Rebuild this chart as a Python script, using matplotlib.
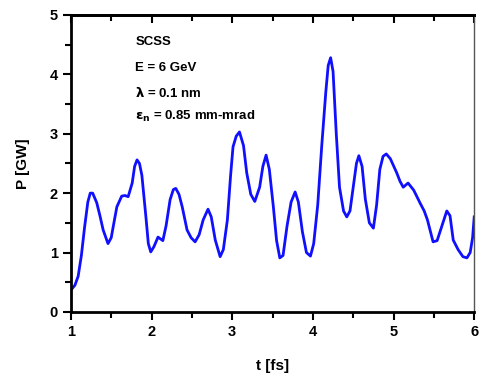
import numpy as np
import matplotlib
import matplotlib.pyplot as plt
from matplotlib.ticker import MultipleLocator

matplotlib.use("Agg")

plt.rcParams['font.family'] = ['Liberation Sans', 'DejaVu Sans']

# 时间 [fs] 与功率 [GW]
t_fs = [1.00, 1.02, 1.05, 1.09, 1.13, 1.17, 1.21, 1.24, 1.27, 1.32, 1.36, 1.40, 1.46,
        1.50, 1.54, 1.57, 1.63, 1.67, 1.71, 1.76, 1.79, 1.82, 1.85, 1.88, 1.93,
        1.96, 1.99, 2.03, 2.08, 2.14, 2.18, 2.23, 2.27, 2.30, 2.34, 2.38, 2.44, 2.49,
        2.54, 2.59, 2.64, 2.70, 2.74, 2.79, 2.85, 2.89, 2.94, 2.98, 3.01, 3.05,
        3.09, 3.14, 3.18, 3.23, 3.28, 3.34, 3.38, 3.42, 3.46, 3.51, 3.55, 3.59,
        3.63, 3.68, 3.73, 3.78, 3.82, 3.87, 3.92, 3.97, 4.01, 4.06, 4.11, 4.16,
        4.19, 4.22, 4.25, 4.29, 4.33, 4.38, 4.42, 4.46, 4.50, 4.54, 4.57, 4.61, 4.65,
        4.70, 4.75, 4.79, 4.83, 4.87, 4.91, 4.96, 5.04, 5.08, 5.12, 5.18, 5.25,
        5.33, 5.38, 5.42, 5.49, 5.54, 5.60, 5.66, 5.70, 5.74, 5.80, 5.86, 5.91,
        5.95, 5.98, 6.00]
power_gw = [0.37, 0.40, 0.45, 0.60, 0.95, 1.43, 1.85, 2.00, 2.00, 1.84, 1.62, 1.38, 1.15,
            1.25, 1.55, 1.77, 1.95, 1.96, 1.94, 2.17, 2.45, 2.56, 2.50, 2.30, 1.60,
            1.15, 1.01, 1.10, 1.26, 1.20, 1.45, 1.89, 2.06, 2.08, 1.98, 1.77, 1.38, 1.25,
            1.18, 1.30, 1.55, 1.73, 1.60, 1.21, 0.93, 1.05, 1.55, 2.30, 2.78, 2.96,
            3.03, 2.80, 2.34, 1.98, 1.86, 2.10, 2.45, 2.64, 2.40, 1.77, 1.20, 0.91,
            0.95, 1.45, 1.85, 2.02, 1.85, 1.35, 1.00, 0.94, 1.15, 1.80, 2.80, 3.70,
            4.15, 4.28, 4.05, 3.00, 2.10, 1.70, 1.60, 1.70, 2.10, 2.50, 2.63, 2.45, 1.90,
            1.50, 1.41, 1.80, 2.40, 2.62, 2.66, 2.58, 2.34, 2.20, 2.10, 2.17, 2.05,
            1.83, 1.70, 1.55, 1.18, 1.20, 1.45, 1.70, 1.62, 1.21, 1.05, 0.93, 0.91,
            1.00, 1.25, 1.60]

fig = plt.figure(figsize=(4.79, 3.74), dpi=100)
ax = fig.add_axes([0.148, 0.166, 0.842, 0.794])

ax.plot(t_fs, power_gw, color='#1010ff', linewidth=2)

ax.set_xlim(1, 6)
ax.set_ylim(0, 5)
ax.xaxis.set_major_locator(MultipleLocator(1))
ax.xaxis.set_minor_locator(MultipleLocator(0.5))
ax.yaxis.set_major_locator(MultipleLocator(1))
ax.yaxis.set_minor_locator(MultipleLocator(0.5))

ax.tick_params(which='both', direction='out', width=1.5, labelsize=10.5)
ax.tick_params(which='major', length=6)
ax.tick_params(which='minor', length=4)
# 顶部刻度朝内
ax2 = ax.secondary_xaxis('top')
ax2.xaxis.set_major_locator(MultipleLocator(1))
ax2.xaxis.set_minor_locator(MultipleLocator(0.5))
ax2.tick_params(which='both', direction='in', width=1.5, labeltop=False)
ax2.tick_params(which='major', length=6)
ax2.tick_params(which='minor', length=4)
ax2.spines['top'].set_linewidth(2)
for lab in ax.get_xticklabels() + ax.get_yticklabels():
    lab.set_fontweight('bold')

for side in ['left', 'bottom', 'top']:
    ax.spines[side].set_linewidth(2)
ax.spines['right'].set_linewidth(1)
ax.spines['right'].set_color('#555555')

ax.set_xlabel('t [fs]', fontsize=11, fontweight='bold', labelpad=14)
ax.set_ylabel('P [GW]', fontsize=11, fontweight='bold', labelpad=14)

# 参数注释
txt = ['SCSS', 'E = 6 GeV', r'$\mathbf{\lambda}$ = 0.1 nm', r'$\mathbf{\varepsilon_n}$ = 0.85 mm-mrad']
ys = [0.9, 0.81, 0.725, 0.645]
for s, y in zip(txt, ys):
    ax.text(0.16, y, s, transform=ax.transAxes, fontsize=9.5, fontweight='bold')

fig.savefig('out.png', dpi=100)
